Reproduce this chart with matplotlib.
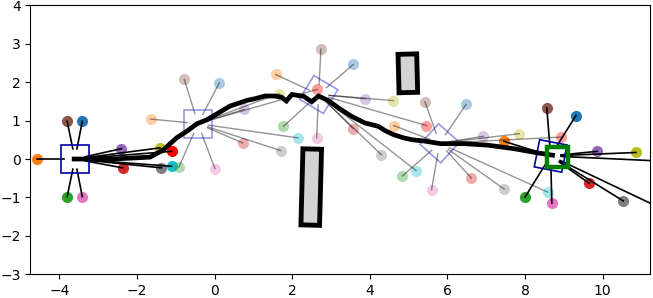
import numpy as np
import matplotlib
matplotlib.use("Agg")
import matplotlib.pyplot as plt
from matplotlib.patches import Rectangle

# landmark colour order
lm_colors = ["tab:blue", "tab:orange", "tab:green", "tab:red", "tab:purple",
             "tab:brown", "tab:pink", "tab:gray", "tab:olive", "tab:cyan", "red"]

# poses: x, y, heading (deg), emphasis
pose_x = [-3.60, -0.43, 2.68, 5.80, 8.66]
pose_y = [0.00, 0.92, 1.68, 0.41, 0.08]
pose_deg = [0, 0, -31, -42, -11]
pose_strong = [True, False, False, False, True]

# observed landmarks per pose (colour order as lm_colors)
obs1_x = [-3.41, -4.59, -3.80, -2.37, -2.40, -3.80, -3.41, -1.37, -1.41, -1.11, -1.11]
obs1_y = [0.98, 0.00, -0.98, -0.23, 0.27, 0.98, -0.98, -0.23, 0.29, -0.19, 0.20]
obs2_x = [0.12, -1.65, -0.92, 0.72, 0.76, -0.78, 0.01, 1.70, 1.66, 2.15, 2.64]
obs2_y = [1.98, 1.04, -0.21, 0.42, 1.29, 2.07, -0.25, 0.22, 1.70, 0.55, 1.81]
obs3_x = [3.57, 1.57, 1.77, 3.57, 3.87, 2.74, 2.63, 4.30, 4.60, 5.19, 5.46]
obs3_y = [2.46, 2.20, 0.85, 0.79, 1.57, 2.86, 0.55, 0.11, 1.52, -0.30, 0.87]
obs4_x = [6.48, 4.62, 4.84, 6.62, 6.92, 5.42, 5.59, 7.46, 7.85, 8.58, 8.92]
obs4_y = [1.42, 0.87, -0.44, -0.50, 0.59, 1.49, -0.80, -0.78, 0.66, -0.86, 0.57]
obs5_x = [9.31, 7.46, 8.00, 9.65, 9.86, 8.56, 8.69, 10.53, 10.86, 12.30, 12.00]
obs5_y = [1.13, 0.46, -0.99, -0.63, 0.20, 1.33, -1.15, -1.09, 0.17, -0.09, -1.52]
obs_x = [obs1_x, obs2_x, obs3_x, obs4_x, obs5_x]
obs_y = [obs1_y, obs2_y, obs3_y, obs4_y, obs5_y]

# trajectory
traj_x = [-3.62, -2.60, -1.66, -1.32, -0.98, -0.72, -0.45, -0.20, 0.05, 0.40, 0.85,
          1.04, 1.30, 1.55, 1.72, 1.85, 1.99, 2.30, 2.50, 2.68, 2.95, 3.19, 3.53,
          3.87, 4.22, 4.39, 4.60, 4.87, 5.10, 5.39, 5.82, 6.42, 7.04, 7.71, 8.32, 8.71]
traj_y = [0.00, 0.00, 0.05, 0.24, 0.55, 0.72, 0.92, 1.02, 1.17, 1.38, 1.53,
          1.57, 1.64, 1.64, 1.61, 1.51, 1.68, 1.63, 1.49, 1.64, 1.51, 1.33, 1.11,
          0.94, 0.85, 0.74, 0.64, 0.55, 0.50, 0.47, 0.40, 0.40, 0.36, 0.27, 0.16, 0.10]

# obstacles: centre x, centre y, width, height, angle
obst_cx = [2.49, 4.98]
obst_cy = [-0.73, 2.23]
obst_w = [0.48, 0.48]
obst_h = [1.98, 1.00]
obst_deg = [-1.5, 1.5]

# goal marker
goal_x, goal_y, goal_size = 8.83, 0.05, 0.54

fig = plt.figure(figsize=(6.53, 2.98), dpi=100)
ax = fig.add_axes([0.0464, 0.0795, 0.949, 0.9027])

sq = 0.72
r0 = 0.27
for i in range(len(pose_x)):
    px, py = pose_x[i], pose_y[i]
    strong = pose_strong[i]
    a = 1.0 if strong else 0.38
    lc = "black" if strong else (0, 0, 0, 0.42)
    for j in range(len(obs_x[i])):
        lx, ly = obs_x[i][j], obs_y[i][j]
        ax.plot(lx, ly, "o", ms=8, color=lm_colors[j], alpha=a, mec="none", zorder=2)
        d = np.hypot(lx - px, ly - py)
        ux, uy = (lx - px) / d, (ly - py) / d
        ax.plot([px + r0 * ux, lx], [py + r0 * uy, ly], color=lc,
                lw=1.2 if strong else 1.0, zorder=2.5)
    ec = "#0000a8" if strong else (0.0, 0.0, 0.75, 0.4)
    ax.add_patch(Rectangle((px - sq / 2, py - sq / 2), sq, sq, angle=pose_deg[i],
                           rotation_point="center", fill=False, ec=ec, lw=1.2, zorder=3))

for k in range(len(obst_cx)):
    ax.add_patch(Rectangle((obst_cx[k] - obst_w[k] / 2, obst_cy[k] - obst_h[k] / 2),
                           obst_w[k], obst_h[k], angle=obst_deg[k], rotation_point="center",
                           fc="lightgray", ec="black", lw=3.5, zorder=3.5))

ax.plot(traj_x, traj_y, color="black", lw=3.4, solid_joinstyle="miter", zorder=4)

ax.add_patch(Rectangle((goal_x - goal_size / 2, goal_y - goal_size / 2), goal_size, goal_size,
                       fill=False, ec="green", lw=3.2, zorder=5))

ax.set_xlim(-4.75, 11.22)
ax.set_ylim(-3, 4)
ax.set_xticks([-4, -2, 0, 2, 4, 6, 8, 10])
ax.set_yticks([-3, -2, -1, 0, 1, 2, 3, 4])

fig.savefig("out.png", dpi=100)
